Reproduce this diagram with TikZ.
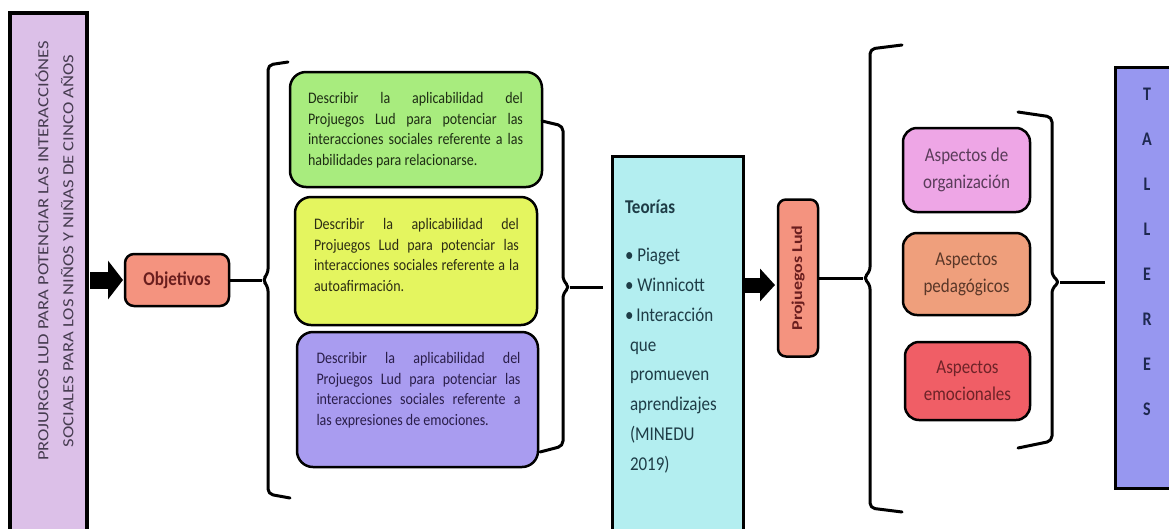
\documentclass[tikz,border=0pt]{standalone}
\usepackage{fontspec}
\setmainfont{Carlito}
\usetikzlibrary{arrows.meta}
\definecolor{titlefill}{HTML}{DCC0E8}
\definecolor{titletext}{HTML}{463C50}
\definecolor{salmon}{HTML}{F4937F}
\definecolor{objtext}{HTML}{6A1E1E}
\definecolor{greenfill}{HTML}{A8EC7E}
\definecolor{greentext}{HTML}{1E2D14}
\definecolor{yellowfill}{HTML}{E4F55F}
\definecolor{yellowtext}{HTML}{2D2D14}
\definecolor{purplefill}{HTML}{A99CF0}
\definecolor{purpletext}{HTML}{2A1E4A}
\definecolor{teofill}{HTML}{B3EEF0}
\definecolor{teotext}{HTML}{1E3C46}
\definecolor{pinkfill}{HTML}{EEA6E6}
\definecolor{pinktext}{HTML}{5A3C5A}
\definecolor{orangefill}{HTML}{EF9F7C}
\definecolor{orangetext}{HTML}{5A3728}
\definecolor{redfill}{HTML}{F05E66}
\definecolor{redtext}{HTML}{6E2328}
\definecolor{tallfill}{HTML}{9797F0}
\definecolor{talltext}{HTML}{1E2850}
\newcommand{\vstretch}[1]{\scalebox{1}[1.15]{#1}}
\newcommand{\boxpar}[2]{\vstretch{\parbox{#1}{\fontsize{14}{17.8}\selectfont #2}}}
\begin{document}
\begin{tikzpicture}[x=1pt,y=-1pt,
  every node/.style={inner sep=0pt, outer sep=0pt},
  rbox/.style={draw=black, line width=2.5pt},
  sqbox/.style={draw=black, line width=3pt},
  aspect/.style={rbox, rounded corners=14pt, minimum width=127pt},
  brace/.style={draw=black, line width=3pt, rounded corners=5pt, line cap=round, line join=round},
  conn/.style={draw=black, line width=3pt},
  bigarrowa/.style={draw=black, line width=17pt, -{Triangle[length=15pt,width=38pt]}},
  bigarrowb/.style={draw=black, line width=15pt, -{Triangle[length=15pt,width=32pt]}}]
\clip (0,0) rectangle (1169,528);
\fill[white] (0,0) rectangle (1169,528);

% title box
\node[draw=black, line width=4pt, fill=titlefill, minimum width=77pt, minimum height=532pt] (titlebox) at (48.5,279) {};
\node[rotate=90, text=titletext] (titletext) at (54.5,251)
  {\scalebox{1.2}[1]{\parbox{400pt}{\centering\fontsize{15.5}{25}\selectfont PROJURGOS LUD PARA POTENCIAR LAS INTERACCIÓNES\\SOCIALES PARA LOS NIÑOS Y NIÑAS DE CINCO AÑOS}}};

% objetivos
\node[rbox, rounded corners=9pt, fill=salmon, minimum width=104pt, minimum height=52pt, text=objtext, font=\bfseries\fontsize{17}{20}\selectfont] (obj) at (177,280) {\vstretch{Objetivos}};

% three objective boxes
\node[rbox, rounded corners=16pt, fill=greenfill, minimum width=252pt, minimum height=115pt] (g1) at (416,129.5) {};
\node[text=greentext] (g1t) at (415.5,130)
  {\boxpar{215pt}{Describir la aplicabilidad del\linebreak Projuegos Lud para potenciar las\linebreak interacciones sociales referente a las\linebreak habilidades para relacionarse.}};
\node[rbox, rounded corners=16pt, fill=yellowfill, minimum width=242pt, minimum height=128pt] (g2) at (416,261) {};
\node[text=yellowtext] (g2t) at (416.5,255)
  {\boxpar{205pt}{Describir la aplicabilidad del\linebreak Projuegos Lud para potenciar las\linebreak interacciones sociales referente a la\linebreak autoafirmación.}};
\node[rbox, rounded corners=16pt, fill=purplefill, minimum width=241pt, minimum height=135pt] (g3) at (417.5,399.5) {};
\node[text=purpletext] (g3t) at (418.5,390)
  {\boxpar{204pt}{Describir la aplicabilidad del\linebreak Projuegos Lud para potenciar las\linebreak interacciones sociales referente a\linebreak las expresiones de emociones.}};

% teorias
\node[sqbox, fill=teofill, minimum width=131pt, minimum height=389pt] (teo) at (677.5,350.5) {};
\node[anchor=north west, text=teotext] (teot) at (625,200)
  {\vstretch{\parbox{115pt}{\raggedright\fontsize{17}{26}\selectfont
   \textbf{Teorías}\\[15.6pt]
   \textbullet\ Piaget\\
   \textbullet\ Winnicott\\
   \textbullet\,Interacción\\
   \hspace*{5pt}que\\
   \hspace*{5pt}promueven\\
   \hspace*{5pt}aprendizajes\\
   \hspace*{5pt}(MINEDU\\
   \hspace*{5pt}2019)}}};

% projuegos lud
\node[rbox, rounded corners=8pt, fill=salmon, minimum width=40pt, minimum height=157pt, text=objtext, font=\bfseries\fontsize{15}{18}\selectfont] (pl) at (798,278) {\rotatebox{90}{\scalebox{1.2}[1]{Projuegos Lud}}};

% aspects
\node[aspect, fill=pinkfill, minimum height=84pt, text=pinktext] (asp1) at (966.5,170)
  {\vstretch{\parbox{120pt}{\centering\fontsize{17}{23.5}\selectfont Aspectos de\\organización}}};
\node[aspect, fill=orangefill, minimum height=82pt, text=orangetext] (asp2) at (966.5,274)
  {\vstretch{\parbox{120pt}{\centering\fontsize{17}{23.5}\selectfont Aspectos\\pedagógicos}}};
\node[aspect, fill=redfill, minimum width=125pt, minimum height=78pt, text=redtext] (asp3) at (967.5,381)
  {\vstretch{\parbox{120pt}{\centering\fontsize{17}{23.5}\selectfont Aspectos\\emocionales}}};

% talleres
\node[sqbox, fill=tallfill, minimum width=65pt, minimum height=421pt] (tall) at (1147.5,277.5) {};
\node[text=talltext] (tallt) at (1147,252)
  {\scalebox{1}[1.2]{\parbox{20pt}{\centering\bfseries\fontsize{16}{37.5}\selectfont T\\A\\L\\L\\E\\R\\E\\S}}};

% braces and connectors
\coordinate (b1tip) at (262,280);
\draw[brace] (288,62) -- (268,65) -- (268,274) -- (b1tip) -- (268,286) -- (268,494) -- (290,498);
\draw[conn] (obj.east) -- (b1tip);

\coordinate (b2tip) at (570,287);
\coordinate (b2end) at (603,287);
\draw[brace] (542,121) -- (563,126) -- (563,281) -- (b2tip) -- (563,293) -- (563,446) -- (540,452);
\draw[conn] (b2tip) -- (b2end);

\coordinate (b3tip) at (863,278);
\draw[brace] (902,45) -- (870,49) -- (870,272) -- (b3tip) -- (870,284) -- (870,508) -- (902,512);
\draw[conn] (pl.east) -- (b3tip);

\coordinate (b4tip) at (1060,282);
\coordinate (b4end) at (1105,282);
\draw[brace] (1018,112) -- (1052,117) -- (1052,276) -- (b4tip) -- (1052,288) -- (1052,441) -- (1018,448);
\draw[conn] (b4tip) -- (b4end);

% block arrows
\draw[bigarrowa] ([xshift=3pt]titlebox.east |- obj.west) -- ([xshift=-2pt]obj.west);
\draw[bigarrowb] ([yshift=-7pt]teo.east |- pl.west) -- ([yshift=-7pt,xshift=-3pt]pl.west);
\end{tikzpicture}
\end{document}
